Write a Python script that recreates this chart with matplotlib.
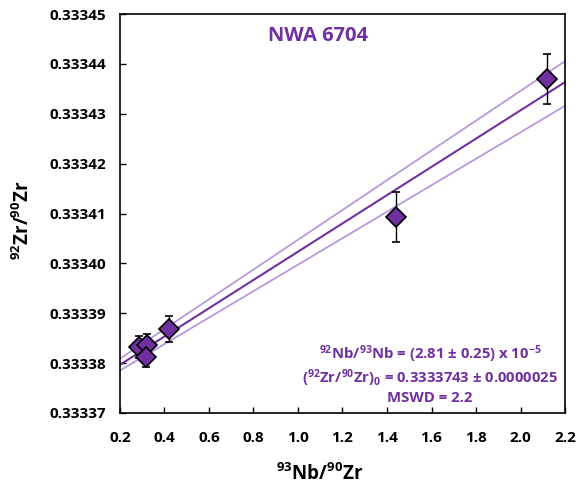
import numpy as np
import matplotlib.pyplot as plt

plt.rcParams['font.family'] = ['Open Sans', 'DejaVu Sans']
plt.rcParams['font.weight'] = 'bold'
plt.rcParams['mathtext.fontset'] = 'custom'
plt.rcParams['mathtext.rm'] = 'Open Sans:bold'
plt.rcParams['mathtext.bf'] = 'Open Sans:bold'
plt.rcParams['mathtext.default'] = 'bf'

# data
nb_zr = [0.285, 0.321, 0.316, 0.419, 1.44, 2.12]
nb_zr_err = [0.0, 0.0, 0.0, 0.0, 0.0, 0.022]
zr_ratio = [0.3333833, 0.3333837, 0.3333813, 0.3333869, 0.3334093, 0.3334370]
zr_err = [0.0000022, 0.0000022, 0.0000020, 0.0000026, 0.0000050, 0.0000050]

# regression line and envelope (intercept, slope)
fit = (0.3333740, 2.835e-5)
fit_upper = (0.3333749, 2.985e-5)
fit_lower = (0.3333732, 2.655e-5)

purple = '#7030A0'
light = '#B899DB'

fig = plt.figure(figsize=(5.81, 4.87), dpi=100)
ax = fig.add_axes([0.2065, 0.152, 0.766, 0.819])

xx = np.array([0.2, 2.2])
ax.plot(xx, fit_upper[0] + fit_upper[1] * xx, color=light, lw=1.3)
ax.plot(xx, fit_lower[0] + fit_lower[1] * xx, color=light, lw=1.3)
ax.plot(xx, fit[0] + fit[1] * xx, color=purple, lw=1.5)

ax.errorbar(nb_zr, zr_ratio, yerr=zr_err, xerr=nb_zr_err, fmt='D', ms=10,
            mfc=purple, mec='black', mew=1.2, ecolor='black', elinewidth=1,
            capsize=3, capthick=1, zorder=5)

ax.set_xlim(0.2, 2.2)
ax.set_ylim(0.33337, 0.33345)
ax.set_xticks(np.arange(0.2, 2.21, 0.2))
ax.set_xticklabels(['%.1f' % v for v in np.arange(0.2, 2.21, 0.2)])
ax.set_yticks(np.arange(0.33337, 0.333451, 0.00001))
ax.set_yticklabels(['%.5f' % v for v in np.arange(0.33337, 0.333451, 0.00001)])
ax.tick_params(direction='in', length=4, width=1, labelsize=11)
ax.tick_params(axis='x', pad=13)
ax.tick_params(axis='y', pad=10)
for s in ax.spines.values():
    s.set_linewidth(1.2)

ax.set_xlabel(r'$^{93}$Nb/$^{90}$Zr', fontsize=13.5, fontweight='bold', va='center')
ax.xaxis.set_label_coords(0.449, -0.153)
ax.set_ylabel(r'$^{92}$Zr/$^{90}$Zr', fontsize=13.5, fontweight='bold', va='center')
ax.yaxis.set_label_coords(-0.218, 0.484)

ax.text(0.445, 0.945, 'NWA 6704', transform=ax.transAxes, color=purple,
        fontsize=14.5, fontweight='bold', ha='center', va='center')
ax.text(0.697, 0.097,
        r'$^{92}$Nb/$^{93}$Nb = (2.81 ± 0.25) x 10$^{-5}$' + '\n' +
        r'($^{92}$Zr/$^{90}$Zr)$_0$ = 0.3333743 ± 0.0000025' + '\n' +
        'MSWD = 2.2',
        transform=ax.transAxes, color=purple, fontsize=10.75, fontweight='bold',
        ha='center', va='center', linespacing=1.15)

plt.savefig('out.png', dpi=100)
